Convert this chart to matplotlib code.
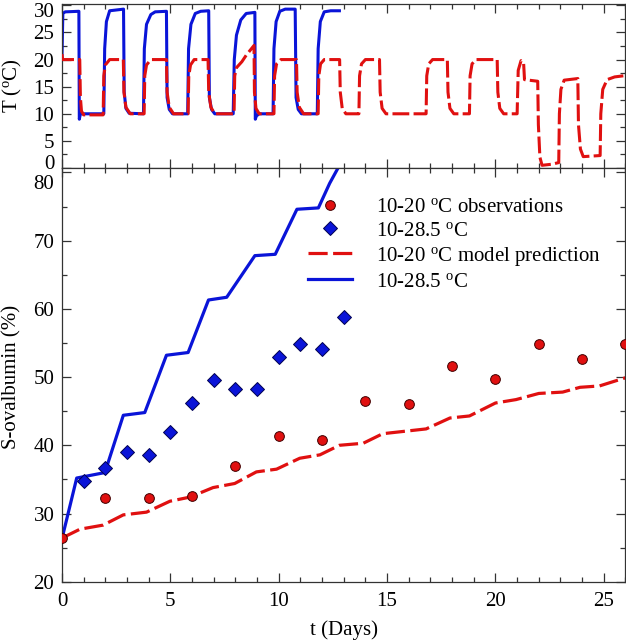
import matplotlib
matplotlib.use('Agg')
import matplotlib.pyplot as plt
from matplotlib.ticker import MultipleLocator
from matplotlib.transforms import ScaledTranslation

plt.rcParams['font.family'] = ['Liberation Serif', 'DejaVu Serif']
plt.rcParams['mathtext.fontset'] = 'custom'
plt.rcParams['mathtext.rm'] = 'Liberation Serif'
plt.rcParams['mathtext.it'] = 'Liberation Serif:italic'

# ---------------- data ----------------
# temperature profile 10-28.5 C (top panel, blue)
temp_blue_t = [0.0, 0.04, 0.15, 0.78, 0.80, 0.85, 1.93,
               1.97, 2.05, 2.2, 2.84, 2.87, 2.95, 3.1, 3.76,
               3.8, 3.9, 4.1, 4.3, 4.82, 4.85, 4.95, 5.1, 5.8,
               5.84, 5.95, 6.15, 6.4, 6.77, 6.8, 6.9, 7.05, 7.9,
               7.95, 8.05, 8.25, 8.5, 8.9, 8.92, 8.97, 9.1, 9.74,
               9.78, 9.88, 10.05, 10.3, 10.76, 10.8, 10.9, 11.05, 11.78,
               11.82, 11.92, 12.1, 12.4, 12.8]
temp_blue_T = [20.5, 28.5, 28.8, 28.9, 9.0, 10.0, 10.0,
               22.0, 27.0, 29.0, 29.3, 14.0, 11.0, 10.1, 10.0,
               22.0, 26.5, 28.3, 28.8, 28.9, 13.0, 10.8, 10.0, 10.0,
               22.0, 26.5, 28.5, 28.9, 29.0, 13.0, 10.8, 10.0, 10.0,
               20.0, 24.5, 27.3, 28.5, 28.7, 9.0, 9.6, 10.0, 10.0,
               22.0, 27.0, 28.9, 29.3, 29.3, 13.0, 10.8, 10.0, 10.0,
               22.0, 27.0, 28.8, 29.0, 29.0]

# temperature profile 10-20 C (top panel, red)
temp_red_t = [0.0, 0.03, 0.82, 0.85, 0.9, 1.0, 1.9,
              1.93, 2.0, 2.2, 2.83, 2.86, 2.95, 3.15, 3.79,
              3.82, 3.9, 4.1, 4.82, 4.85, 4.95, 5.15, 5.82,
              5.85, 5.93, 6.1, 6.74, 6.77, 6.87, 7.05, 7.94,
              7.97, 8.05, 8.3, 8.5, 8.7, 8.86, 8.88, 8.95, 9.1, 9.78,
              9.81, 9.9, 10.1, 10.82, 10.85, 10.95, 11.15, 11.82,
              11.85, 11.93, 12.1, 12.81, 12.84, 12.93, 13.1, 13.7,
              13.73, 13.82, 14.0, 14.65, 14.68, 14.77, 14.95, 16.8,
              16.83, 16.92, 17.1, 17.78, 17.81, 17.9, 18.08, 18.8,
              18.83, 18.92, 19.1, 20.08, 20.11, 20.2, 20.38, 21.0,
              21.05, 21.18, 21.3, 21.34, 21.95,
              21.98, 22.05, 22.15, 22.6, 22.92,
              22.95, 23.02, 23.17, 23.8, 23.83, 23.92, 24.05, 24.83,
              24.86, 24.95, 25.15, 25.5, 25.9]
temp_red_T = [21.0, 20.0, 20.0, 13.0, 10.5, 9.8, 9.8,
              17.0, 19.0, 20.0, 20.0, 14.0, 11.2, 10.0, 10.0,
              17.0, 19.0, 20.0, 20.0, 14.0, 11.2, 10.0, 10.0,
              17.0, 19.0, 20.0, 20.0, 14.0, 11.2, 10.0, 10.0,
              17.0, 18.5, 19.6, 20.8, 21.8, 22.6, 14.0, 11.0, 10.0, 10.0,
              17.0, 19.2, 20.0, 20.0, 14.0, 11.2, 10.0, 10.0,
              17.0, 19.2, 20.0, 20.0, 14.0, 11.0, 10.0, 10.0,
              17.0, 19.2, 20.0, 20.0, 14.0, 11.0, 10.0, 10.0,
              17.0, 19.2, 20.0, 20.0, 14.0, 11.0, 10.0, 10.0,
              17.0, 19.2, 20.0, 20.0, 14.0, 11.0, 10.0, 10.0,
              18.0, 19.8, 19.3, 16.3, 16.0,
              8.0, 2.0, 0.5, 0.7, 1.0,
              10.0, 14.5, 16.2, 16.5, 8.0, 3.5, 2.1, 2.3,
              10.0, 14.5, 16.3, 16.8, 17.0]

# observations (bottom panel)
obs_red_t = [0, 2, 4, 6, 8, 10, 12, 14, 16, 18, 20, 22, 24, 26]
obs_red_v = [26.4, 32.3, 32.3, 32.6, 37.0, 41.4, 40.8, 46.5, 46.1, 51.6,
             49.7, 54.8, 52.7, 54.8]
obs_blue_t = [1, 2, 3, 4, 5, 6, 7, 8, 9, 10, 11, 12, 13]
obs_blue_v = [34.8, 36.7, 39.0, 38.6, 41.9, 46.2, 49.5, 48.2, 48.3, 53.0,
              54.9, 54.1, 58.8]

# model predictions (bottom panel)
mod_red_t = [0, 0.83, 1.9, 2.83, 3.9, 4.98, 5.9, 6.97, 7.97, 8.97, 9.9,
             10.97, 11.9, 12.8, 13.9, 14.8, 16.8, 17.9, 18.8, 20.0, 20.95,
             22.0, 23.1, 23.9, 24.8, 25.9, 26.0]
mod_red_v = [26.4, 27.7, 28.3, 29.8, 30.2, 31.8, 32.4, 33.8, 34.4, 36.1, 36.5,
             38.1, 38.6, 40.0, 40.3, 41.7, 42.4, 44.0, 44.3, 46.2, 46.7,
             47.6, 47.8, 48.5, 48.7, 49.8, 49.9]
mod_blue_t = [0, 0.68, 1.98, 2.83, 3.82, 4.82, 5.82, 6.76, 7.6, 8.9, 9.84,
              10.84, 11.83, 12.35, 12.9]
mod_blue_v = [26.3, 35.2, 36.0, 44.4, 44.8, 53.2, 53.6, 61.3, 61.7, 67.8,
              68.0, 74.6, 74.8, 78.4, 81.6]

labels = [r'10-20 $^{\rm o}$C observations', r'10-28.5 $^{\rm o}$C',
          r'10-20 $^{\rm o}$C model prediction', r'10-28.5 $^{\rm o}$C']

RED = '#e01010'
BLUE = '#0a14d8'
FS = 15

# ---------------- figure ----------------
fig = plt.figure(figsize=(6.26, 6.43), dpi=100)
ax_t = fig.add_axes([0.099, 0.7387, 0.9002, 0.2551])
ax_b = fig.add_axes([0.099, 0.0953, 0.9002, 0.6429])

# top panel
ax_t.plot(temp_blue_t, temp_blue_T, color=BLUE, lw=2.2, zorder=2)
lr, = ax_t.plot(temp_red_t, temp_red_T, color=RED, lw=2.2, zorder=3)
lr.set_dashes((5.5, 1.4))
ax_t.set_xlim(0, 26)
ax_t.set_ylim(0, 30.25)
ax_t.yaxis.set_major_locator(MultipleLocator(5))
ax_t.yaxis.set_minor_locator(MultipleLocator(2.5))
ax_t.xaxis.set_major_locator(MultipleLocator(5))
ax_t.xaxis.set_minor_locator(MultipleLocator(1))

# bottom panel
lm, = ax_b.plot(mod_red_t, mod_red_v, color=RED, lw=2.3, zorder=2,
                label=labels[2])
lm.set_dashes((6.0, 1.7))
ax_b.plot(mod_blue_t, mod_blue_v, color=BLUE, lw=2.3, zorder=2,
          label=labels[3])
ax_b.plot(obs_red_t, obs_red_v, 'o', color=RED, mec='#400000', mew=0.7,
          ms=7, zorder=4, label=labels[0])
ax_b.plot(obs_blue_t, obs_blue_v, 'D', color=BLUE, mec='#000050', mew=0.7,
          ms=7.3, zorder=4, label=labels[1])
ax_b.set_xlim(0, 26)
ax_b.set_ylim(20, 80.6)
ax_b.yaxis.set_major_locator(MultipleLocator(10))
ax_b.yaxis.set_minor_locator(MultipleLocator(5))
ax_b.xaxis.set_major_locator(MultipleLocator(5))
ax_b.xaxis.set_minor_locator(MultipleLocator(1))

for ax in (ax_t, ax_b):
    ax.tick_params(which='both', direction='in', top=True, right=True,
                   colors='#333333', labelcolor='black', labelsize=FS,
                   width=0.9)
    ax.tick_params(which='major', length=6.5)
    ax.tick_params(which='minor', length=3.5)
    ax.tick_params(axis='y', which='major', pad=5.5)
    ax.tick_params(axis='x', which='major', pad=7.5)
    for s in ax.spines.values():
        s.set_color('#333333')
        s.set_linewidth(0.9)
ax_t.tick_params(labelbottom=False)

# edge tick labels shifted inward as in the reference
fig.canvas.draw()


def shift(lab, dy_px):
    lab.set_transform(lab.get_transform() +
                      ScaledTranslation(0, dy_px / 100.0, fig.dpi_scale_trans))


for lab in ax_t.get_yticklabels():
    if lab.get_text() == '30':
        shift(lab, -5)
    elif lab.get_text() == '0':
        shift(lab, 6)
for lab in ax_b.get_yticklabels():
    if lab.get_text() == '80':
        shift(lab, -10)

handles, labs = ax_b.get_legend_handles_labels()
order = [2, 3, 0, 1]
ax_b.legend([handles[i] for i in order], [labs[i] for i in order],
            loc='upper left', bbox_to_anchor=(0.437, 0.93), frameon=False,
            fontsize=FS, handlelength=2.1, handletextpad=1.15,
            labelspacing=0.2, borderpad=0, borderaxespad=0)

fig.text(12 / 626, 1 - 86 / 643, r'T ($^{\rm o}$C)', rotation=90,
         ha='center', va='center', fontsize=FS)
fig.text(12 / 626, 1 - 377 / 643, 'S-ovalbumin (%)', rotation=90,
         ha='center', va='center', fontsize=FS)
fig.text(344 / 626, 1 - 630 / 643, 't (Days)', ha='center', va='center',
         fontsize=FS)

fig.savefig('out.png', dpi=100)
